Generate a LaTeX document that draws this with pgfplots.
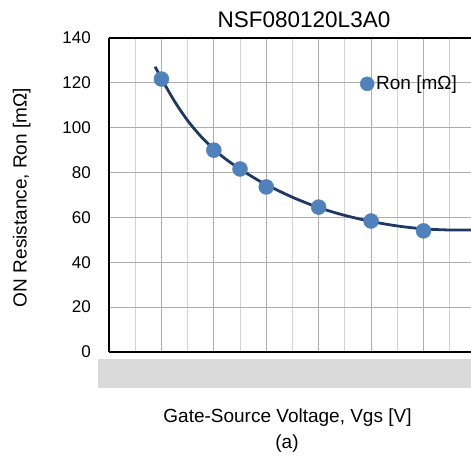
\documentclass[border=0pt]{standalone}
\usepackage{pgfplots}
\pgfplotsset{compat=1.18}
\usepackage{fontspec}
\setmainfont{Liberation Sans}
\definecolor{ptblue}{HTML}{4F81BD}
\definecolor{trend}{HTML}{1F3864}
\definecolor{band}{HTML}{DADADA}
\definecolor{gmaj}{HTML}{ADADAD}
\definecolor{gmin}{HTML}{D3D3D3}
\begin{document}
\begin{tikzpicture}
\useasboundingbox (0bp,0bp) rectangle (471bp,459bp);
\fill[band] (98bp,71bp) rectangle (471bp,100bp);
\begin{axis}[
  at={(109bp,107bp)}, anchor=south west,
  width=364bp, height=314bp, scale only axis,
  xmin=0, xmax=13.89, ymin=0, ymax=140,
  axis x line*=box, axis y line*=left,
  axis line style={black, line width=1.3bp},
  xtick={0,2,...,12}, minor xtick={1,3,...,13},
  xticklabels={},
  ytick={0,20,...,140},
  major tick length=0pt, minor tick length=0pt,
  xmajorgrids, xminorgrids, ymajorgrids,
  major grid style={gmaj, line width=1bp},
  minor grid style={gmin, line width=1bp},
  yticklabel style={font=\fontsize{17bp}{20bp}\selectfont, anchor=east, inner sep=0pt, xshift=-18bp},
  /pgf/number format/assume math mode=true,
  legend style={at={(rel axis cs:0.6895,0.854)}, anchor=west, draw=none, fill=none,
    font=\fontsize{19bp}{21bp}\selectfont, inner sep=0pt, row sep=0pt},
  legend cell align=left,
  legend image code/.code={\draw[#1, mark size=7bp] plot coordinates {(0.2cm,0cm)};},
  clip=false,
]
\addplot[trend, line width=2.8bp, smooth, forget plot] coordinates {
 (1.76,127.2) (2,121.9) (2.5,111.8) (3,103.2) (3.5,96.2) (4,90.4) (4.5,85.6)
 (5,81.6) (5.5,77.9) (6,74.6) (7,69.0) (8,64.4) (9,60.9) (10,58.2)
 (11,56.2) (12,54.9) (13,54.4) (13.89,54.4)
};
\addplot[only marks, mark=*, mark size=7.5bp, mark options={draw=ptblue, fill=ptblue}] coordinates {
 (2,121.7) (4,90.0) (5,81.6) (6,73.6) (8,64.6) (10,58.4) (12,54.0)
};
\addlegendentry{Ron [mΩ]}
\end{axis}
\node[font=\fontsize{22.5bp}{24bp}\selectfont] at (304bp,439.3bp) {NSF080120L3A0};
\node[font=\fontsize{19bp}{21bp}\selectfont, anchor=base, inner sep=0pt] at (287.5bp,36.7bp) {Gate-Source Voltage, Vgs [V]};
\node[font=\fontsize{19bp}{21bp}\selectfont, anchor=base, inner sep=0pt] at (287bp,11bp) {(a)};
\node[font=\fontsize{19bp}{21bp}\selectfont, rotate=90] at (21.7bp,261.5bp) {ON Resistance, Ron [mΩ]};
\end{tikzpicture}
\end{document}
